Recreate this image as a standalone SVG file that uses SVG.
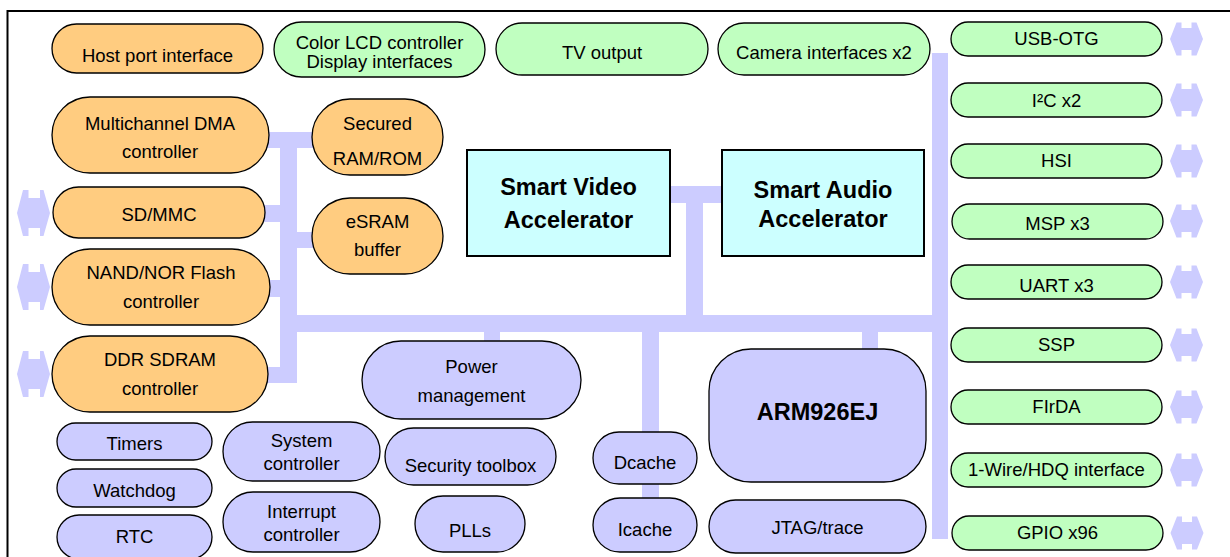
<svg xmlns="http://www.w3.org/2000/svg" width="1230" height="557" viewBox="0 0 1230 557">
<defs>
<style>
.o{fill:#ffcc80;stroke:#000;stroke-width:1.3}
.g{fill:#c0ffc0;stroke:#000;stroke-width:1.3}
.p{fill:#ccccff;stroke:#000;stroke-width:1.3}
.c{fill:#ccffff;stroke:#000;stroke-width:2}
.bus{fill:#ccccff}
text{font-family:"Liberation Sans",Arial,sans-serif;font-size:18.5px;fill:#000;text-anchor:middle}
.b{font-weight:bold;font-size:23.5px}
</style>
<path id="ra" d="M-16.5,0 L-10,-16.5 L-5,-16.5 L-5,-11 L5,-11 L5,-16.5 L10,-16.5 L16.5,0 L10,16.5 L5,16.5 L5,11 L-5,11 L-5,16.5 L-10,16.5 Z"/>
<path id="la" d="M-16.5,0 L-10.5,-23 L-5,-23 L-5,-15 L6.5,-15 L6.5,-23 L10,-23 L16.5,0 L10,23 L6.5,23 L6.5,15 L-5,15 L-5,23 L-10.5,23 Z"/>
</defs>
<rect width="1230" height="557" fill="#fff"/>
<rect x="7.5" y="11" width="1240" height="570" fill="none" stroke="#000" stroke-width="2"/>
<g id="connectors" class="bus">
<rect x="280" y="132" width="17" height="251"/>
<rect x="250" y="132" width="70" height="16"/>
<rect x="250" y="205" width="40" height="17"/>
<rect x="285" y="232" width="45" height="16"/>
<rect x="250" y="280" width="40" height="17"/>
<rect x="250" y="367" width="47" height="16"/>
<rect x="280" y="315" width="668" height="17"/>
<rect x="932" y="53" width="16" height="486"/>
<rect x="484" y="325" width="16" height="25"/>
<rect x="660" y="186" width="70" height="17"/>
<rect x="686" y="186" width="17" height="140"/>
<rect x="642" y="325" width="17" height="115"/>
<rect x="642" y="478" width="17" height="28"/>
<rect x="862" y="325" width="16" height="30"/>
<use href="#la" x="33.5" y="213"/>
<use href="#la" x="33.5" y="287"/>
<use href="#la" x="33.5" y="374"/>
<use href="#ra" x="1186.5" y="39"/>
<use href="#ra" x="1186.5" y="100"/>
<use href="#ra" x="1186.5" y="161"/>
<use href="#ra" x="1186.5" y="221"/>
<use href="#ra" x="1186.5" y="282"/>
<use href="#ra" x="1186.5" y="345"/>
<use href="#ra" x="1186.5" y="407"/>
<use href="#ra" x="1186.5" y="470"/>
<use href="#ra" x="1187" y="533"/>
</g>
<g id="host"><rect class="o" x="52" y="24" width="211" height="49" rx="24.5"/><text x="157.5" y="62">Host port interface</text></g>
<g id="lcd"><rect class="g" x="274" y="22" width="211" height="55" rx="27.5"/><text x="379.5" y="49">Color LCD controller</text><text x="379.5" y="68">Display interfaces</text></g>
<g id="tv"><rect class="g" x="496" y="23" width="212" height="52" rx="26"/><text x="602" y="59">TV output</text></g>
<g id="camera"><rect class="g" x="718" y="23" width="212" height="52" rx="26"/><text x="824" y="59">Camera interfaces x2</text></g>
<g id="dma"><rect class="o" x="52" y="97" width="217" height="76" rx="38"/><text x="160" y="130">Multichannel DMA</text><text x="160" y="158">controller</text></g>
<g id="secured"><rect class="o" x="312" y="99" width="131" height="76" rx="38"/><text x="377.5" y="130">Secured</text><text x="377.5" y="165">RAM/ROM</text></g>
<g id="sdmmc"><rect class="o" x="53" y="187" width="212" height="51" rx="25.5"/><text x="159" y="221">SD/MMC</text></g>
<g id="esram"><rect class="o" x="312" y="198" width="131" height="76" rx="38"/><text x="377.5" y="228">eSRAM</text><text x="377.5" y="256">buffer</text></g>
<g id="nand"><rect class="o" x="52" y="249" width="218" height="76" rx="38"/><text x="161" y="279">NAND/NOR Flash</text><text x="161" y="308">controller</text></g>
<g id="ddr"><rect class="o" x="52" y="336" width="216" height="76" rx="38"/><text x="160" y="366">DDR SDRAM</text><text x="160" y="395">controller</text></g>
<g id="sva"><rect class="c" x="467" y="150" width="203" height="106"/><text class="b" x="568.5" y="195">Smart Video</text><text class="b" x="568.5" y="228">Accelerator</text></g>
<g id="saa"><rect class="c" x="722" y="150" width="202" height="106"/><text class="b" x="823" y="198">Smart Audio</text><text class="b" x="823" y="227">Accelerator</text></g>
<g id="power"><rect class="p" x="362" y="341" width="219" height="78" rx="39"/><text x="471.5" y="373">Power</text><text x="471.5" y="402">management</text></g>
<g id="timers"><rect class="p" x="57" y="423" width="155" height="37" rx="18.5"/><text x="134.5" y="450">Timers</text></g>
<g id="watchdog"><rect class="p" x="57" y="469" width="155" height="38" rx="19"/><text x="134.5" y="497">Watchdog</text></g>
<g id="rtc"><rect class="p" x="57" y="515" width="155" height="44" rx="22"/><text x="134.5" y="543">RTC</text></g>
<g id="sysctl"><rect class="p" x="223" y="422" width="157" height="59" rx="29.5"/><text x="301.5" y="447">System</text><text x="301.5" y="470">controller</text></g>
<g id="intctl"><rect class="p" x="223" y="492" width="157" height="60" rx="30"/><text x="301.5" y="518">Interrupt</text><text x="301.5" y="541">controller</text></g>
<g id="security"><rect class="p" x="385" y="428" width="171" height="57" rx="28.5"/><text x="470.5" y="472">Security toolbox</text></g>
<g id="plls"><rect class="p" x="415" y="496" width="110" height="56" rx="28"/><text x="470" y="537">PLLs</text></g>
<g id="dcache"><rect class="p" x="593" y="432" width="104" height="52" rx="26"/><text x="645" y="469">Dcache</text></g>
<g id="icache"><rect class="p" x="593" y="498" width="104" height="54" rx="27"/><text x="645" y="536">Icache</text></g>
<g id="arm"><rect class="p" x="709" y="349" width="217" height="133" rx="42"/><text class="b" x="817.5" y="420">ARM926EJ</text></g>
<g id="jtag"><rect class="p" x="709" y="500" width="217" height="53" rx="26.5"/><text x="817.5" y="534">JTAG/trace</text></g>
<g id="usb"><rect class="g" x="951" y="22" width="211" height="34" rx="17"/><text x="1056.5" y="45">USB-OTG</text></g>
<g id="i2c"><rect class="g" x="951" y="83" width="211" height="34" rx="17"/><text x="1056.5" y="107">I²C x2</text></g>
<g id="hsi"><rect class="g" x="951" y="144" width="211" height="34" rx="17"/><text x="1056.5" y="167">HSI</text></g>
<g id="msp"><rect class="g" x="952" y="204" width="211" height="35" rx="17.5"/><text x="1057.5" y="230">MSP x3</text></g>
<g id="uart"><rect class="g" x="951" y="265" width="211" height="34" rx="17"/><text x="1056.5" y="292">UART x3</text></g>
<g id="ssp"><rect class="g" x="951" y="328" width="211" height="34" rx="17"/><text x="1056.5" y="351">SSP</text></g>
<g id="firda"><rect class="g" x="951" y="390" width="211" height="34" rx="17"/><text x="1056.5" y="413">FIrDA</text></g>
<g id="onewire"><rect class="g" x="951" y="453" width="211" height="34" rx="17"/><text x="1056.5" y="476">1-Wire/HDQ interface</text></g>
<g id="gpio"><rect class="g" x="952" y="516" width="211" height="34" rx="17"/><text x="1057.5" y="539">GPIO x96</text></g>
</svg>
